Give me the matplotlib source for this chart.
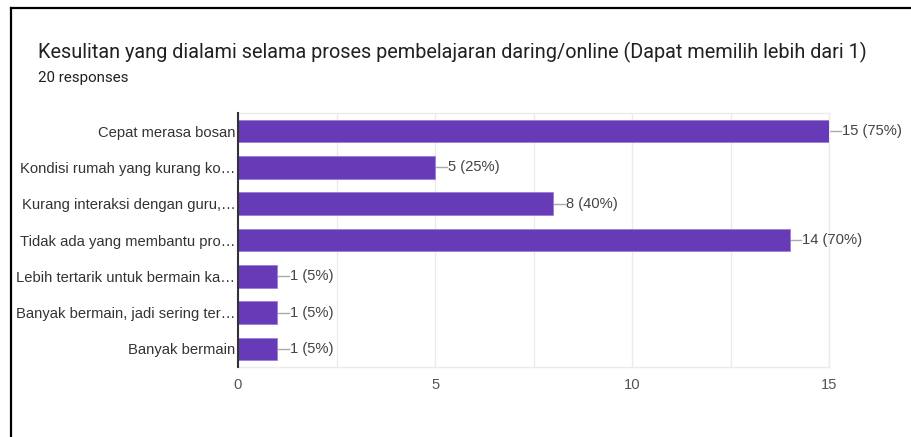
import matplotlib
matplotlib.use("Agg")
import matplotlib.pyplot as plt
from matplotlib.lines import Line2D

plt.rcParams['font.family'] = ['Liberation Sans', 'DejaVu Sans']

categories = ['Cepat merasa bosan', 'Kondisi rumah yang kurang ko…',
              'Kurang interaksi dengan guru,…', 'Tidak ada yang membantu pro…',
              'Lebih tertarik untuk bermain ka…', 'Banyak bermain, jadi sering ter…',
              'Banyak bermain']
counts = [15, 5, 8, 14, 1, 1, 1]
percents = [75, 25, 40, 70, 5, 5, 5]
xticks = [0, 5, 10, 15]

fig = plt.figure(figsize=(9.11, 4.37), dpi=100)
ax = fig.add_axes([0.2613, 0.160, 0.6487, 0.5814])

ypos = list(range(len(categories)))
ax.barh(ypos, counts, height=0.62, color='#673ab7', edgecolor='#9c7fd6',
        linewidth=0.6, zorder=3)

for y, c, p in zip(ypos, counts, percents):
    ax.plot([c, c + 0.3], [y, y], color='#aaaaaa', lw=1, clip_on=False, zorder=2)
    ax.text(c + 0.32, y, f"{c} ({p}%)", ha='left', va='center',
            fontsize=10.6, color='#444444', clip_on=False)

ax.set_xlim(0, 15)
ax.set_ylim(len(categories) - 0.5, -0.5)
ax.set_yticks(ypos)
ax.set_yticklabels(categories, fontsize=10.6, color='#333333')
ax.set_xticks(xticks)
ax.set_xticklabels([str(t) for t in xticks], fontsize=10.6, color='#555555')
ax.set_xticks([2.5, 7.5, 12.5], minor=True)
ax.tick_params(axis='both', which='both', length=0)
ax.tick_params(axis='y', pad=2)
ax.tick_params(axis='x', pad=8)
ax.grid(axis='x', which='both', color='#ebebeb', lw=1, zorder=0)

for side in ['top', 'bottom', 'right']:
    ax.spines[side].set_color('#ebebeb')
    ax.spines[side].set_linewidth(1)
ax.spines['left'].set_color('#333333')
ax.spines['left'].set_linewidth(1.5)
ax.spines['left'].set_zorder(4)

fig.text(38 / 911, 1 - 52 / 437, "Kesulitan yang dialami selama proses pembelajaran daring/online (Dapat memilih lebih dari 1)",
         fontsize=14.3, color='#202124', va='center', ha='left',
         family=['Roboto', 'DejaVu Sans'])
fig.text(38 / 911, 1 - 78 / 437, "20 responses", fontsize=10.9, color='#202124',
         va='center', ha='left', family=['Roboto', 'DejaVu Sans'])

# screenshot frame
fig.add_artist(Line2D([10.5 / 911, 1], [1 - 8 / 437, 1 - 8 / 437], color='black', lw=1.6))
fig.add_artist(Line2D([10.5 / 911, 10.5 / 911], [0, 1 - 8 / 437], color='black', lw=1.6))

fig.savefig('out.png', dpi=100)
